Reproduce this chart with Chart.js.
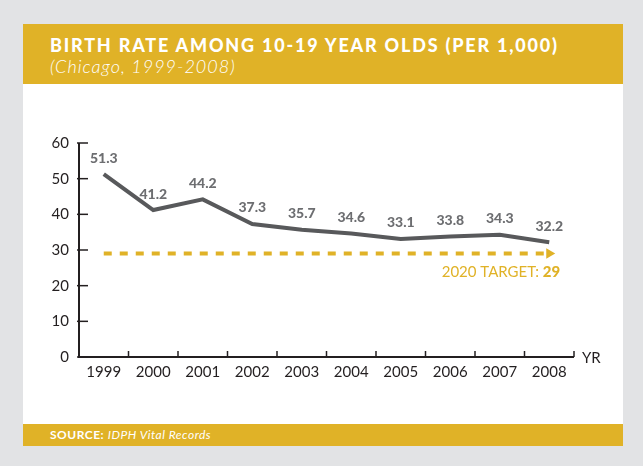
<!DOCTYPE html>
<html>
<head>
<meta charset="utf-8">
<script src="https://cdn.jsdelivr.net/npm/chart.js@4"></script>
<style>
  body { margin: 0; background: #e2e3e5; width: 643px; height: 466px; overflow: hidden; font-family: Lato, "Noto Sans", sans-serif; }
  #card { position: absolute; left: 23px; top: 24px; width: 600px; height: 422px; background: #fff; }
  #head { position: absolute; left: 0; top: 0; width: 600px; height: 60px; background: #e0b227; color: #fff; }
  #title { position: absolute; left: 27px; top: 10px; font-size: 18px; font-weight: 900; letter-spacing: 1.8px; white-space: nowrap; }
  #sub { position: absolute; left: 27px; top: 31px; font-size: 18px; font-style: italic; font-weight: 300; letter-spacing: 1px; white-space: nowrap; }
  #foot { position: absolute; left: 0; top: 400px; width: 600px; height: 22px; background: #e0b227; color: #fff; font-size: 12px; letter-spacing: 0.5px; line-height: 22px; }
  #foot span.s { position: absolute; left: 27px; white-space: nowrap; }
  #wrap { position: absolute; left: 0; top: 60px; width: 600px; height: 340px; }
</style>
</head>
<body>
<div id="card">
  <div id="head">
    <div id="title">BIRTH RATE AMONG 10-19 YEAR OLDS (PER 1,000)</div>
    <div id="sub">(Chicago, 1999-2008)</div>
  </div>
  <div id="wrap"><canvas id="birthChart" width="600" height="340"></canvas></div>
  <div id="foot"><span class="s"><b>SOURCE:</b> <i>IDPH Vital Records</i></span></div>
</div>
<script>
const years = ["1999", "2000", "2001", "2002", "2003", "2004", "2005", "2006", "2007", "2008"];
const birthRate = [51.3, 41.2, 44.2, 37.3, 35.7, 34.6, 33.1, 33.8, 34.3, 32.2];
const yTicks = [0, 10, 20, 30, 40, 50, 60];
const target = 29;

const dark = "#231f20";
const gold = "#e0b227";

// ticks point inward, so draw axes + ticks ourselves
const axisPlugin = {
    id: "axisPlugin",
    afterDatasetsDraw(chart) {
        const ctx = chart.ctx;
        const x = chart.scales.x;
        const y = chart.scales.y;
        const area = chart.chartArea;
        ctx.save();
        ctx.strokeStyle = dark;
        ctx.lineWidth = 2;
        ctx.beginPath();
        ctx.moveTo(area.left, y.getPixelForValue(60));
        ctx.lineTo(area.left, area.bottom);
        ctx.lineTo(area.right, area.bottom);
        ctx.stroke();
        ctx.lineWidth = 1.5;
        yTicks.forEach(v => {
            const py = y.getPixelForValue(v);
            ctx.beginPath();
            ctx.moveTo(area.left - 2, py);
            ctx.lineTo(area.left + 9, py);
            ctx.stroke();
        });
        for (let i = 0; i < years.length; i++) {
            const px = x.getPixelForValue(i) + (x.getPixelForValue(1) - x.getPixelForValue(0)) / 2;
            ctx.beginPath();
            ctx.moveTo(px, area.bottom);
            ctx.lineTo(px, area.bottom - 6);
            ctx.stroke();
        }
        ctx.fillStyle = dark;
        ctx.font = "15px Lato";
        ctx.textAlign = "left";
        ctx.textBaseline = "middle";
        ctx.fillText("YR", area.right + 8, area.bottom + 1);

        // value labels
        ctx.fillStyle = "#6d6e71";
        ctx.font = "900 14px Lato";
        ctx.textAlign = "center";
        ctx.textBaseline = "bottom";
        const meta = chart.getDatasetMeta(0);
        meta.data.forEach((pt, i) => {
            ctx.fillText(birthRate[i].toFixed(1), pt.x, pt.y - 9);
        });

        // target label
        ctx.fillStyle = gold;
        ctx.textAlign = "right";
        ctx.textBaseline = "middle";
        const ty = y.getPixelForValue(target) + 19;
        const right = x.getPixelForValue(years.length - 1) + 11;
        ctx.font = "900 15px Lato";
        const w = ctx.measureText(String(target)).width;
        ctx.fillText(String(target), right, ty);
        ctx.font = "15px Lato";
        ctx.fillText("2020 TARGET: ", right - w, ty);
        ctx.restore();
    }
};

new Chart(document.getElementById("birthChart"), {
    type: "line",
    data: {
        labels: years,
        datasets: [{
            label: "Birth rate",
            data: birthRate,
            borderColor: "#58595b",
            borderWidth: 4,
            pointRadius: 0,
            tension: 0
        }, {
            label: "2020 target",
            data: years.map(() => target),
            borderColor: gold,
            backgroundColor: gold,
            borderWidth: 4,
            borderDash: [8, 8],
            borderCapStyle: "butt",
            pointStyle: "triangle",
            rotation: 90,
            pointRadius: years.map((yr, i) => i === years.length - 1 ? 6 : 0),
            pointBorderWidth: 0,
            tension: 0
        }]
    },
    options: {
        responsive: false,
        animation: false,
        layout: { padding: { top: 59, right: 49, bottom: 37, left: 0 } },
        plugins: { legend: { display: false }, tooltip: { enabled: false } },
        scales: {
            x: {
                offset: true,
                grid: { display: false },
                border: { display: false },
                ticks: { color: dark, font: { family: "Lato", size: 15 }, padding: -2, maxRotation: 0 },
                afterFit: s => { s.height = 30; }
            },
            y: {
                min: 0,
                max: 60,
                afterBuildTicks: s => { s.ticks = yTicks.map(v => ({ value: v })); },
                grid: { display: false },
                border: { display: false },
                ticks: { color: dark, font: { family: "Lato", size: 15 }, padding: 2 },
                afterFit: s => { s.width = 56; }
            }
        }
    },
    plugins: [axisPlugin]
});
</script>
</body>
</html>
